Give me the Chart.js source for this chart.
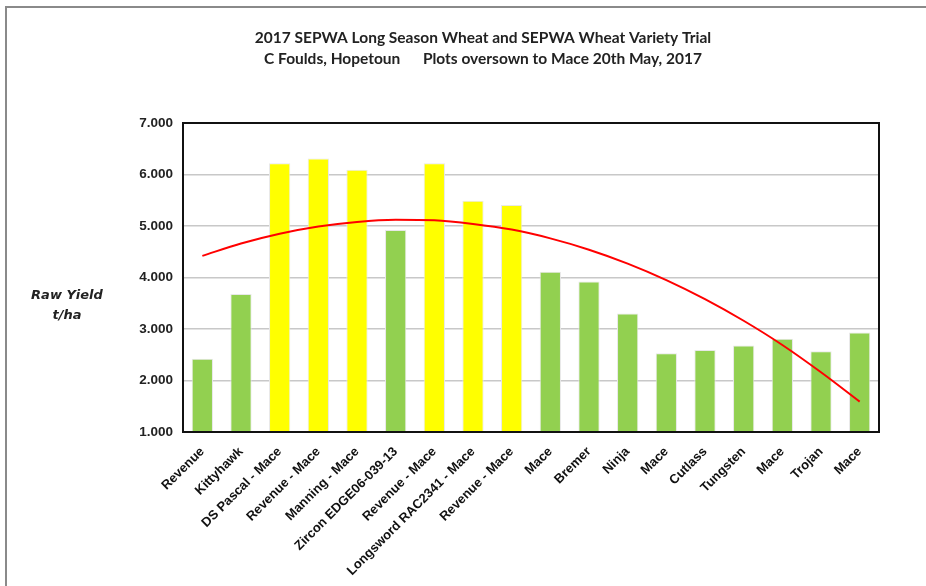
<!DOCTYPE html>
<html>
<head>
<meta charset="utf-8">
<script src="https://cdn.jsdelivr.net/npm/chart.js@4"></script>
<style>
  html, body { margin: 0; padding: 0; background: #fff; }
  #wrap { position: relative; width: 926px; height: 586px; }
  #frame { position: absolute; left: 5px; top: 6px; right: 0; bottom: 0; border-top: 2px solid #8a8a8a; border-left: 2px solid #8a8a8a; pointer-events: none; }
  #ytitle { position: absolute; left: 27px; top: 285px; width: 80px; text-align: center; font: italic bold 13px "DejaVu Sans", Verdana, sans-serif; color: #222; line-height: 20px; }
  canvas { position: absolute; left: 0; top: 0; }
</style>
</head>
<body>
<div id="wrap">
  <canvas id="chart" width="926" height="586"></canvas>
  <div id="frame"></div>
  <div id="ytitle">Raw Yield<br>t/ha</div>
</div>
<script>
// varieties along the x axis
const varieties = [
  'Revenue', 'Kittyhawk', 'DS Pascal - Mace', 'Revenue - Mace', 'Manning - Mace',
  'Zircon EDGE06-039-13', 'Revenue - Mace', 'Longsword RAC2341 - Mace', 'Revenue - Mace',
  'Mace', 'Bremer', 'Ninja', 'Mace', 'Cutlass', 'Tungsten', 'Mace', 'Trojan', 'Mace'
];

// raw yield t/ha
const rawYield = [2.42, 3.68, 6.22, 6.31, 6.09, 4.92, 6.22, 5.49, 5.41,
                  4.11, 3.92, 3.30, 2.53, 2.59, 2.68, 2.81, 2.57, 2.93];

// oversown plots are shown in yellow
const oversown = [false, false, true, true, true, false, true, true, true,
                  false, false, false, false, false, false, false, false, false];

// red polynomial trend line, value at each variety
const trend = [4.42, 4.66, 4.85, 4.99, 5.08, 5.12, 5.11, 5.04, 4.93,
               4.76, 4.54, 4.27, 3.95, 3.58, 3.16, 2.69, 2.16, 1.59];

const titleLines = [
  '2017 SEPWA Long Season Wheat and SEPWA Wheat Variety Trial',
  'C Foulds, Hopetoun      Plots oversown to Mace 20th May, 2017'
];

const yTicks = [1, 2, 3, 4, 5, 6, 7];

const GREEN = '#92D050';
const YELLOW = '#FFFF00';

// black frame round the plot area, title drawn centred over the page
const plotFrame = {
  id: 'plotFrame',
  afterDraw(chart) {
    const { ctx, chartArea: a } = chart;
    ctx.save();
    ctx.strokeStyle = '#111';
    ctx.lineWidth = 2;
    ctx.strokeRect(a.left, a.top, a.right - a.left, a.bottom - a.top);

    ctx.fillStyle = '#222';
    ctx.font = 'bold 15.5px Lato, "Open Sans", sans-serif';
    ctx.textAlign = 'center';
    ctx.textBaseline = 'middle';
    titleLines.forEach((t, i) => ctx.fillText(t, 483, 38 + i * 21));
    ctx.restore();
  }
};

new Chart(document.getElementById('chart'), {
  data: {
    labels: varieties,
    datasets: [
      {
        type: 'line',
        data: trend,
        borderColor: '#FF0000',
        borderWidth: 2,
        pointRadius: 0,
        tension: 0.4,
        cubicInterpolationMode: 'monotone',
        order: 0
      },
      {
        type: 'bar',
        data: rawYield,
        backgroundColor: oversown.map(o => o ? YELLOW : GREEN),
        borderColor: '#e8e8e8',
        borderWidth: 1,
        barPercentage: 0.55,
        categoryPercentage: 1,
        order: 1
      }
    ]
  },
  options: {
    responsive: false,
    animation: false,
    layout: { padding: { left: 0, right: 47, top: 123, bottom: 0 } },
    plugins: {
      legend: { display: false },
      tooltip: { enabled: false },
      title: { display: false }
    },
    scales: {
      x: {
        grid: { display: false },
        border: { display: false },
        ticks: {
          color: '#111',
          maxRotation: 45,
          minRotation: 45,
          autoSkip: false,
          padding: 4,
          font: { family: '"Liberation Sans", Arial, sans-serif', size: 13, weight: 'bold' }
        },
        afterFit(scale) { scale.height = 154; }
      },
      y: {
        min: 1,
        max: 7,
        afterBuildTicks(scale) { scale.ticks = yTicks.map(v => ({ value: v })); },
        grid: { color: '#c8c8c8', lineWidth: 1.5, drawTicks: false },
        border: { display: false },
        ticks: {
          color: '#222',
          padding: 10,
          font: { family: '"Liberation Sans", Arial, sans-serif', size: 13.5, weight: 'bold' },
          callback: v => Number(v).toFixed(3)
        },
        afterFit(scale) { scale.width = 183; }
      }
    }
  },
  plugins: [plotFrame]
});
</script>
</body>
</html>
